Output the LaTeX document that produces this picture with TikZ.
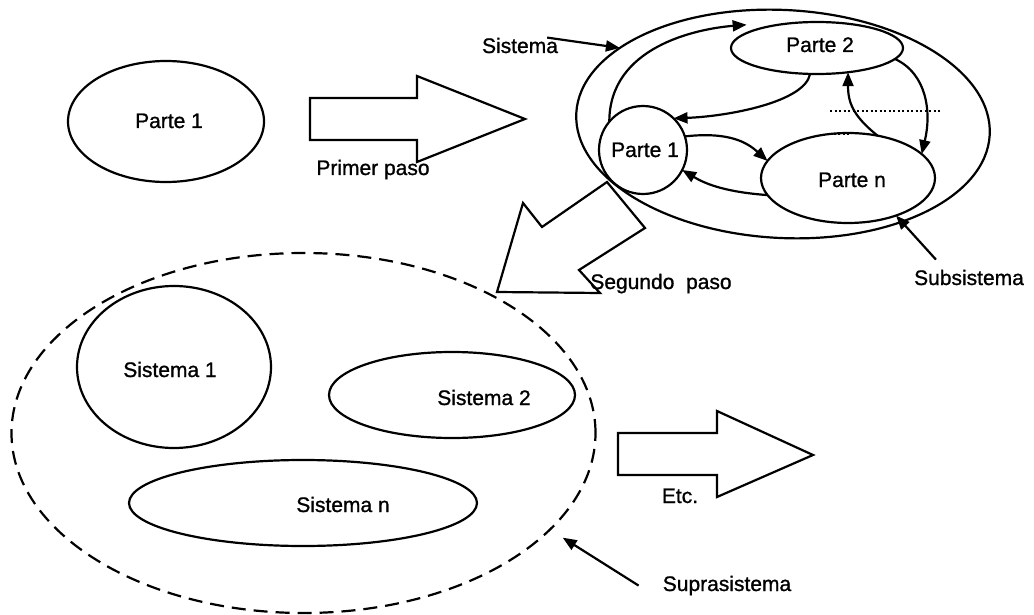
\documentclass[tikz,border=0pt]{standalone}
\usepackage{fontspec}
\setmainfont{Liberation Sans}
\newfontfamily\scanfont{Liberation Sans}[FakeBold=1]
\usetikzlibrary{shapes.geometric,arrows.meta}
\begin{document}
\begin{tikzpicture}[x=1pt,y=-1pt,
  outline/.style={draw=black,line width=2.2pt},
  oval/.style={outline,ellipse,inner sep=0pt,outer sep=0pt},
  roundpart/.style={outline,circle,inner sep=0pt,outer sep=0pt},
  lbl/.style={inner sep=0pt,anchor=base,font=\scanfont\fontsize{21}{25}\selectfont},
  link/.style={line width=2.2pt,-{Triangle[length=14pt,width=11pt]}},
  blockarrow/.style={outline,line join=miter},
  dotline/.style={line width=2.4pt,dash pattern=on 2pt off 2.5pt},
]
\fill[white] (0,0) rectangle (1034,615);
\useasboundingbox (0,0) rectangle (1034,615);

% ---- a single part ----
\node[oval,minimum width=196pt,minimum height=121pt] (partA) at (166,121.5) {};
\node[lbl] (partAtxt) at (169,128) {Parte 1};

% first step
\draw[blockarrow] (310,98) -- (417,98) -- (417,76) -- (525,119) -- (417,162)
  -- (417,140) -- (310,140) -- cycle;
\node[lbl] (step1) at (373,175) {Primer paso};

% ---- the system and its parts ----
\node[oval,minimum width=414pt,minimum height=228pt,rotate=-3] (sys) at (783,124) {};
\node[roundpart,minimum size=88pt] (p1) at (643,150) {};
\node[oval,minimum width=172pt,minimum height=52pt] (p2) at (817,48) {};
\node[oval,minimum width=174pt,minimum height=90pt] (pn) at (848,178) {};
\node[lbl] (p1txt) at (645,157) {Parte 1};
\node[lbl] (p2txt) at (820,52) {Parte 2};
\node[lbl] (pntxt) at (852,187) {Parte n};

% relations between the parts
\draw[link] (p1.140) .. controls +(0,-75) and +(-50,4) .. ([shift={(-6,-6)}]p2.165);
\draw[link] (p2.-105) .. controls +(-5,28) and +(55,-2) .. (p1.46);
\draw[link] (p2.-8) .. controls +(32,15) and +(10,-42) .. (pn.18);
\draw[link] (pn.55) .. controls +(-25,-20) and +(0,30) .. (p2.-38);
\draw[link] (p1.18) .. controls +(45,-5) and +(-20,-18) .. (pn.168);
\draw[link] (pn.192) .. controls +(-40,-3) and +(25,15) .. (p1.-27);

% the parts in between
\draw[dotline] (830,111) -- (942,111);
\draw[dotline] (829,134) -- (850,134);

% labels with pointers
\node[lbl] (sistxt) at (520,53) {Sistema};
\draw[link] ([xshift=-11pt]sistxt.north east) -- (sys.158);
\node[lbl] (subtxt) at (969,285) {Subsistema};
\draw[link] ([xshift=22pt,yshift=10pt]subtxt.north west) -- (pn.-38);

% second step
\draw[blockarrow] (497,292) -- (523,203) -- (542,227) -- (607,182) -- (645,228)
  -- (579,270) -- (600,293) -- cycle;
\node[lbl] (step2) at (661,289) {Segundo\ \ paso};

% ---- the suprasystem ----
\node[oval,dash pattern=on 14pt off 8pt,minimum width=584pt,minimum height=360pt] (supra) at (303.5,433) {};
\node[oval,minimum width=194pt,minimum height=162pt] (s1) at (174,367) {};
\node[oval,minimum width=246pt,minimum height=86pt] (s2) at (452,395) {};
\node[oval,minimum width=348pt,minimum height=86pt] (sn) at (303,503) {};
\node[lbl] (s1txt) at (170,377) {Sistema 1};
\node[lbl] (s2txt) at (484,405) {Sistema 2};
\node[lbl] (sntxt) at (343,512) {Sistema n};

% further steps
\draw[blockarrow] (618,433) -- (717,433) -- (717,411) -- (813,455) -- (717,497)
  -- (717,475) -- (618,475) -- cycle;
\node[lbl] (etctxt) at (680,503) {Etc.};

\node[lbl] (supratxt) at (727,591) {Suprasistema};
\draw[link] ([xshift=-24pt]supratxt.west) -- ([shift={(15,6)}]supra.-22);
\end{tikzpicture}
\end{document}
